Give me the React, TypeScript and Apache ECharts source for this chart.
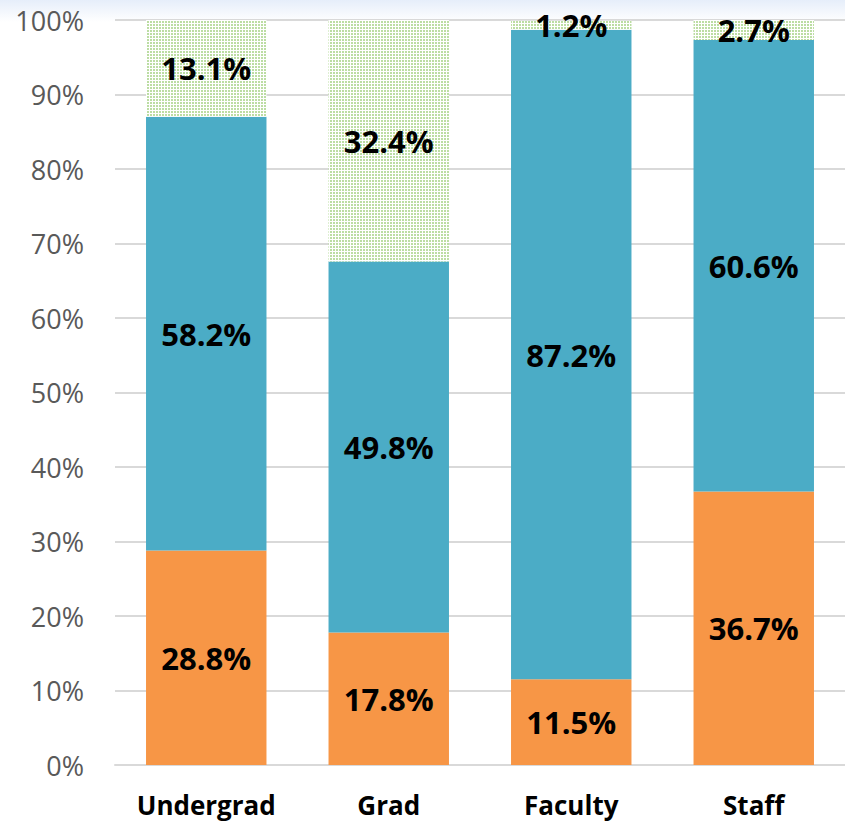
import React, { useEffect, useRef } from "react";
import * as echarts from "echarts";

const categories = ["Undergrad", "Grad", "Faculty", "Staff"];
const orangeValues = [28.8, 17.8, 11.5, 36.7];
const blueValues = [58.2, 49.8, 87.2, 60.6];
const greenValues = [13.1, 32.4, 1.2, 2.7];
const yTicks = [0, 10, 20, 30, 40, 50, 60, 70, 80, 90, 100];

function makePattern(): string {
  const c = document.createElement("canvas");
  c.width = 3;
  c.height = 3;
  const ctx = c.getContext("2d")!;
  ctx.fillStyle = "#ffffff";
  ctx.fillRect(0, 0, 3, 3);
  ctx.fillStyle = "#bcdda3";
  ctx.fillRect(0, 0, 2, 2);
  return c.toDataURL();
}

export default function App() {
  const ref = useRef<HTMLDivElement>(null);
  useEffect(() => {
    if (!ref.current) return;
    const chart = echarts.init(ref.current, null, { renderer: "svg" });
    const labelFont = {
      show: true,
      position: "inside" as const,
      color: "#000000",
      fontWeight: "bold" as const,
      fontSize: 31,
      fontFamily: "Open Sans",
      formatter: (p: any) => p.value.toFixed(1) + "%",
    };
    chart.setOption({
      animation: false,
      backgroundColor: "#ffffff",
      graphic: [
        {
          type: "rect",
          left: 0,
          top: 0,
          shape: { width: 845, height: 22 },
          z: -10,
          style: {
            fill: new echarts.graphic.LinearGradient(0, 0, 0, 1, [
              { offset: 0, color: "#e6eefa" },
              { offset: 1, color: "#ffffff" },
            ]),
          },
        },
      ],
      grid: { left: 115, right: 0, top: 20, bottom: 58 },
      xAxis: {
        type: "category",
        data: categories,
        axisLine: { show: true, lineStyle: { color: "#d9d9d9", width: 2 } },
        axisTick: { show: false },
        axisLabel: {
          color: "#000000",
          fontWeight: "bold",
          fontSize: 26,
          fontFamily: "Open Sans",
          margin: 27,
        },
      },
      yAxis: {
        type: "value",
        min: 0,
        max: 100,
        interval: 10,
        axisLine: { show: false },
        axisTick: { show: false },
        splitLine: { lineStyle: { color: "#d9d9d9", width: 2 } },
        axisLabel: {
          color: "#595959",
          fontSize: 27,
          fontFamily: "Open Sans",
          margin: 31,
          formatter: (v: number) => (yTicks.includes(v) ? v + "%" : ""),
        },
      },
      series: [
        {
          type: "bar",
          stack: "s",
          barWidth: "66%",
          data: orangeValues,
          itemStyle: { color: "#f79646" },
          label: labelFont,
        },
        {
          type: "bar",
          stack: "s",
          data: blueValues,
          itemStyle: { color: "#4bacc6" },
          label: labelFont,
        },
        {
          type: "bar",
          stack: "s",
          data: greenValues,
          itemStyle: { color: { image: makePattern(), repeat: "repeat" } as any },
          label: labelFont,
        },
      ],
    });
    return () => chart.dispose();
  }, []);
  return (
    <div
      ref={ref}
      style={{ position: "fixed", left: 0, top: 0, width: 845, height: 823 }}
    />
  );
}
